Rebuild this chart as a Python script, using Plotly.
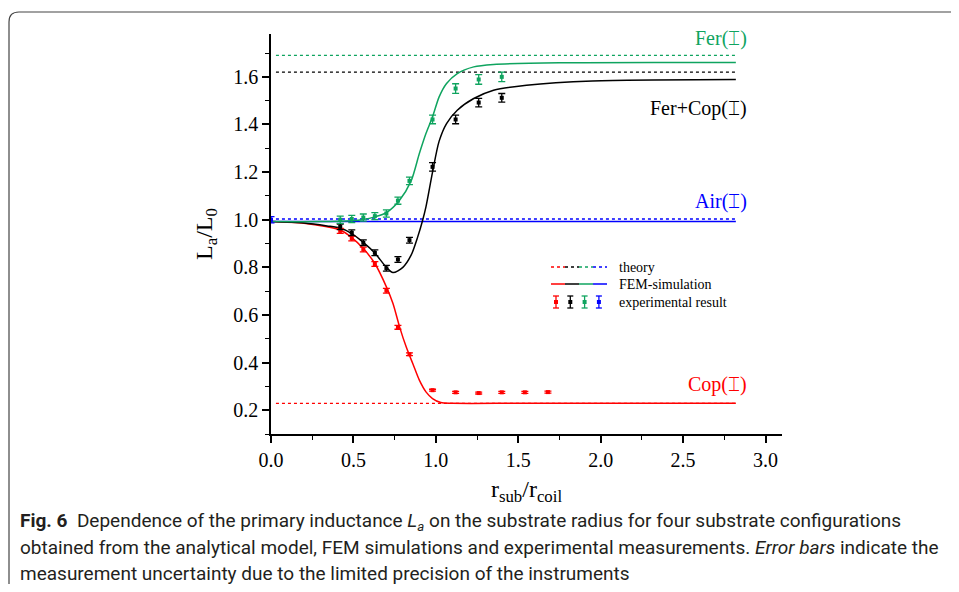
import plotly.graph_objects as go

# ---------------- data ----------------
exp_x_red = [0.42, 0.49, 0.56, 0.63, 0.70, 0.77, 0.84, 0.98, 1.12, 1.26, 1.40, 1.54, 1.68]
exp_y_red = [0.953, 0.921, 0.875, 0.814, 0.702, 0.548, 0.435, 0.284, 0.275, 0.272, 0.275, 0.275, 0.276]
err_red = [0.010, 0.010, 0.010, 0.010, 0.010, 0.008, 0.006, 0.004, 0.004, 0.004, 0.004, 0.004, 0.004]

exp_x_black = [0.42, 0.49, 0.56, 0.63, 0.70, 0.77, 0.84, 0.98, 1.12, 1.26, 1.40]
exp_y_black = [0.970, 0.945, 0.903, 0.861, 0.796, 0.833, 0.914, 1.222, 1.421, 1.492, 1.512]
err_black = [0.012, 0.012, 0.012, 0.012, 0.012, 0.012, 0.012, 0.018, 0.018, 0.018, 0.018]

exp_x_green = [0.42, 0.49, 0.56, 0.63, 0.70, 0.77, 0.84, 0.98, 1.12, 1.26, 1.40]
exp_y_green = [1.000, 1.003, 1.009, 1.015, 1.026, 1.080, 1.163, 1.421, 1.551, 1.589, 1.600]
err_green = [0.015, 0.015, 0.015, 0.015, 0.015, 0.015, 0.016, 0.018, 0.020, 0.020, 0.020]

exp_x_blue = [0.0]
exp_y_blue = [1.0]
err_blue = [0.013]

fem_x_red = [0.0, 0.2, 0.34, 0.42, 0.49, 0.56, 0.63, 0.70, 0.74, 0.78, 0.82, 0.86, 0.90, 0.94, 0.98, 1.03, 1.10, 1.5, 2.0, 2.82]
fem_y_red = [0.992, 0.985, 0.970, 0.957, 0.925, 0.879, 0.816, 0.718, 0.648, 0.550, 0.466, 0.396, 0.326, 0.277, 0.249, 0.232, 0.229, 0.229, 0.229, 0.229]

fem_x_black = [0.0, 0.2, 0.34, 0.42, 0.49, 0.56, 0.63, 0.70, 0.74, 0.80, 0.85, 0.89, 0.92, 0.94, 0.98, 1.02, 1.065, 1.13, 1.23, 1.35, 1.55, 1.95, 2.82]
fem_y_black = [0.992, 0.986, 0.974, 0.965, 0.942, 0.905, 0.860, 0.800, 0.778, 0.800, 0.851, 0.928, 0.998, 1.054, 1.200, 1.330, 1.404, 1.460, 1.509, 1.544, 1.565, 1.583, 1.589]

fem_x_green = [0.0, 0.3, 0.49, 0.56, 0.63, 0.70, 0.78, 0.85, 0.90, 0.94, 0.98, 1.02, 1.065, 1.13, 1.23, 1.35, 1.75, 2.82]
fem_y_green = [0.992, 0.992, 0.996, 1.001, 1.012, 1.030, 1.082, 1.163, 1.278, 1.362, 1.432, 1.516, 1.572, 1.614, 1.642, 1.652, 1.659, 1.660]

fem_x_blue = [0.0, 2.82]
fem_y_blue = [0.992, 0.992]

theory_x = [0.03, 2.82]
theory_red = 0.229
theory_black = 1.62
theory_green = 1.69
theory_blue = 1.003

labels = ["Fer(⌶)", "Fer+Cop(⌶)", "Air(⌶)", "Cop(⌶)"]
legend_labels = ["theory", "FEM-simulation", "experimental result"]

RED = "#ff0000"
BLACK = "#000000"
GREEN = "#0fa45f"
BLUE = "#0000ff"
SERIF = "Liberation Serif"

# ---------------- layout geometry (pixels) ----------------
OFF = 8  # page body margin
W, H = 959 - 2 * OFF, 592 - 2 * OFF
L, T = 263, 26
PW, PH = 511, 400
R = W - L - PW
B = H - T - PH


def px(sx):
    return (sx - OFF - L) / PW


def py(sy):
    return (T + PH - (sy - OFF)) / PH


fig = go.Figure()

# theory lines
for val, col in [(theory_red, RED), (theory_black, BLACK), (theory_green, GREEN), (theory_blue, BLUE)]:
    fig.add_trace(go.Scatter(x=theory_x, y=[val, val], mode="lines",
                             line=dict(color=col, width=1.3, dash="dot"), showlegend=False))

# FEM curves
for xs, ys, col in [(fem_x_blue, fem_y_blue, BLUE), (fem_x_red, fem_y_red, RED),
                    (fem_x_black, fem_y_black, BLACK), (fem_x_green, fem_y_green, GREEN)]:
    fig.add_trace(go.Scatter(x=xs, y=ys, mode="lines", line=dict(color=col, width=1.5, shape="spline", smoothing=0.8),
                             showlegend=False))

# experimental points
for xs, ys, es, col in [(exp_x_red, exp_y_red, err_red, RED), (exp_x_black, exp_y_black, err_black, BLACK),
                        (exp_x_green, exp_y_green, err_green, GREEN), (exp_x_blue, exp_y_blue, err_blue, BLUE)]:
    fig.add_trace(go.Scatter(x=xs, y=ys, mode="markers", cliponaxis=False,
                             marker=dict(color=col, size=4, symbol="square"),
                             error_y=dict(type="data", array=es, visible=True, color=col, thickness=1.3, width=3.5),
                             showlegend=False))

annotations = []
# series labels
for text, col, ycen in [(labels[0], GREEN, 38), (labels[1], BLACK, 108), (labels[2], BLUE, 201), (labels[3], RED, 384)]:
    annotations.append(dict(x=px(749), y=py(ycen), xref="paper", yref="paper", text=text, showarrow=False,
                            xanchor="right", yanchor="middle", font=dict(family=SERIF, size=20, color=col)))

# legend (manual, multi-colour samples)
shapes = []
cols = [RED, BLACK, GREEN, BLUE]
row_y = [267, 284, 302]
for i, c in enumerate(cols):
    x0 = 551 + 14 * i
    shapes.append(dict(type="line", xref="paper", yref="paper", x0=px(x0), x1=px(x0 + 14),
                       y0=py(row_y[0]), y1=py(row_y[0]), line=dict(color=c, width=1.3, dash="dot")))
    shapes.append(dict(type="line", xref="paper", yref="paper", x0=px(x0), x1=px(x0 + 14),
                       y0=py(row_y[1]), y1=py(row_y[1]), line=dict(color=c, width=1.5)))
    xc = 556 + 14.3 * i
    yc = row_y[2]
    shapes.append(dict(type="line", xref="paper", yref="paper", x0=px(xc), x1=px(xc),
                       y0=py(yc - 6), y1=py(yc + 6), line=dict(color=c, width=1.3)))
    for dy in (-6, 6):
        shapes.append(dict(type="line", xref="paper", yref="paper", x0=px(xc - 3), x1=px(xc + 3),
                           y0=py(yc + dy), y1=py(yc + dy), line=dict(color=c, width=1.3)))
    shapes.append(dict(type="rect", xref="paper", yref="paper", x0=px(xc - 2), x1=px(xc + 2),
                       y0=py(yc - 2), y1=py(yc + 2), fillcolor=c, line=dict(width=0)))
for txt, yy in zip(legend_labels, row_y):
    annotations.append(dict(x=px(617), y=py(yy), xref="paper", yref="paper", text=txt, showarrow=False,
                            xanchor="left", yanchor="middle", font=dict(family=SERIF, size=14, color=BLACK)))

# outer frame (rounded corner, open to the right and bottom)
fx0, fy0, fx1, fy1, rr = 9, 12, 951, 584, 10
shapes.append(dict(type="path", xref="paper", yref="paper",
                   path=f"M {px(fx0)},{py(fy1)} L {px(fx0)},{py(fy0 + rr)} Q {px(fx0)},{py(fy0)} {px(fx0 + rr)},{py(fy0)} L {px(fx1)},{py(fy0)}",
                   line=dict(color="#444444", width=1.2)))

# caption
CAP = "#231f20"
cap_lines = [
    "<b>Fig. 6</b>  Dependence of the primary inductance <i>L<sub>a</sub></i> on the substrate radius for four substrate configurations",
    "obtained from the analytical model, FEM simulations and experimental measurements. <i>Error bars</i> indicate the",
    "measurement uncertainty due to the limited precision of the instruments",
]
for txt, yy in zip(cap_lines, [521, 547, 573]):
    annotations.append(dict(x=px(18), y=py(yy), xref="paper", yref="paper", text=txt, showarrow=False,
                            xanchor="left", yanchor="middle", font=dict(family="Roboto", size=19, color=CAP)))

axis_common = dict(showline=True, linecolor="black", linewidth=1.5, ticks="outside", ticklen=7, tickwidth=1.5,
                   tickcolor="black", showgrid=False, zeroline=False,
                   tickfont=dict(family=SERIF, size=20, color="black"))

fig.update_layout(
    width=W, height=H, margin=dict(l=L, r=R, t=T, b=B),
    paper_bgcolor="white", plot_bgcolor="white", showlegend=False,
    xaxis=dict(range=[0, 3.1], dtick=0.5, tick0=0, tickformat=".1f",
               minor=dict(dtick=0.25, ticklen=4, tickwidth=1.2, ticks="outside", tickcolor="black"),
               title=dict(text="r<sub>sub</sub>/r<sub>coil</sub>", font=dict(family=SERIF, size=24, color="black"),
                          standoff=10),
               **axis_common),
    yaxis=dict(range=[0.1, 1.78], dtick=0.2, tick0=0, tickformat=".1f",
               minor=dict(dtick=0.1, ticklen=4, tickwidth=1.2, ticks="outside", tickcolor="black"),
               title=dict(text="L<sub>a</sub>/L<sub>0</sub>", font=dict(family=SERIF, size=24, color="black"),
                          standoff=14),
               **axis_common),
    annotations=annotations, shapes=shapes,
)

fig.write_html("out.html", config={"displayModeBar": False})
